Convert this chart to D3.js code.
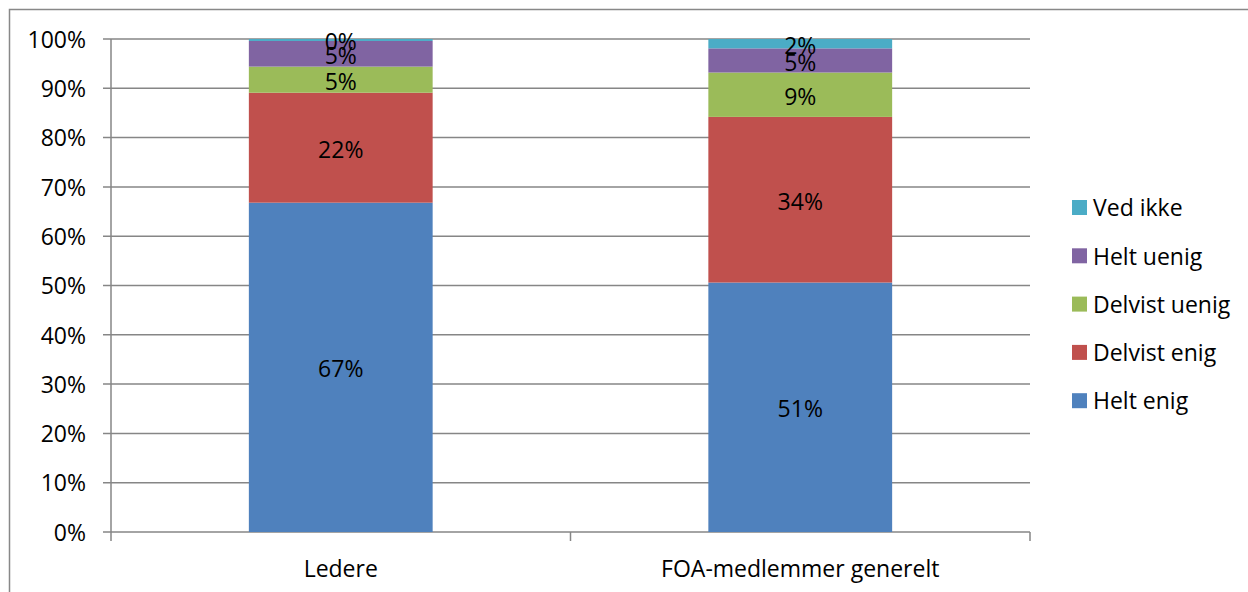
<!DOCTYPE html>
<html>
<head>
<meta charset="utf-8">
<script src="https://cdn.jsdelivr.net/npm/d3@7"></script>
<style>
  body { margin: 0; background: #fff; }
  text { font-family: "Open Sans", sans-serif; }
</style>
</head>
<body>
<svg width="1248" height="592"></svg>
<script>
const categories = ['Ledere', 'FOA-medlemmer generelt'];
const seriesNames = ['Helt enig', 'Delvist enig', 'Delvist uenig', 'Helt uenig', 'Ved ikke'];
const seriesColors = ['#4F81BD', '#C0504D', '#9BBB59', '#8064A2', '#4BACC6'];
const heltEnig = [66.8, 50.6];
const delvistEnig = [22.3, 33.6];
const delvistUenig = [5.3, 9.0];
const heltUenig = [5.2, 4.9];
const vedIkke = [0.4, 1.9];
const yTicks = [0, 10, 20, 30, 40, 50, 60, 70, 80, 90, 100];

(function (d3) {
  const values = [heltEnig, delvistEnig, delvistUenig, heltUenig, vedIkke];
  const rows = categories.map((c, i) => {
    const r = { cat: c };
    seriesNames.forEach((s, j) => r[s] = values[j][i]);
    return r;
  });

  const svg = d3.select('svg');
  const width = +svg.attr('width');
  const height = +svg.attr('height');
  const fontSize = 23;

  // outer chart border
  svg.append('rect')
    .attr('x', 9.5).attr('y', 9.5)
    .attr('width', width).attr('height', height)
    .attr('fill', 'none')
    .attr('stroke', '#888').attr('stroke-width', 1.5);

  const left = 111, right = 1030, plotTop = 39, bottom = 532;

  const x = d3.scaleBand().domain(categories).range([left, right]).paddingInner(0.6).paddingOuter(0.3);
  const xb = d3.scaleBand().domain(categories).range([left, right]);
  const y = d3.scaleLinear().domain([0, 100]).range([bottom, plotTop]);

  // gridlines
  svg.append('g')
    .selectAll('line')
    .data(yTicks)
    .join('line')
      .attr('x1', left - 8).attr('x2', right)
      .attr('y1', d => y(d)).attr('y2', d => y(d))
      .attr('stroke', '#868686').attr('stroke-width', 1.5);

  // y axis line
  svg.append('line')
    .attr('x1', left).attr('x2', left)
    .attr('y1', plotTop).attr('y2', bottom)
    .attr('stroke', '#868686').attr('stroke-width', 1.5);

  // y labels
  svg.append('g')
    .selectAll('text')
    .data(yTicks)
    .join('text')
      .attr('x', left - 25)
      .attr('y', d => y(d))
      .attr('dy', '0.38em')
      .attr('text-anchor', 'end')
      .attr('font-size', fontSize)
      .attr('fill', '#000')
      .text(d => d + '%');

  // x ticks
  const xTickPos = [left, ...categories.map(c => xb(c) + xb.bandwidth())];
  svg.append('g')
    .selectAll('line')
    .data(xTickPos)
    .join('line')
      .attr('x1', d => d).attr('x2', d => d)
      .attr('y1', bottom).attr('y2', bottom + 9)
      .attr('stroke', '#868686').attr('stroke-width', 1.5);

  svg.append('g')
    .selectAll('text')
    .data(categories)
    .join('text')
      .attr('x', d => x(d) + x.bandwidth() / 2)
      .attr('y', 569)
      .attr('dy', '0.35em')
      .attr('text-anchor', 'middle')
      .attr('font-size', fontSize)
      .attr('fill', '#000')
      .text(d => d);

  const stack = d3.stack().keys(seriesNames)(rows);
  const color = d3.scaleOrdinal().domain(seriesNames).range(seriesColors);

  const layers = svg.append('g')
    .selectAll('g')
    .data(stack)
    .join('g')
      .attr('fill', d => color(d.key));

  layers.selectAll('rect')
    .data(d => d)
    .join('rect')
      .attr('x', d => x(d.data.cat))
      .attr('width', x.bandwidth())
      .attr('y', d => y(d[1]))
      .attr('height', d => y(d[0]) - y(d[1]));

  // data labels
  layers.selectAll('text')
    .data(d => d.map(v => ({ v, key: d.key })))
    .join('text')
      .attr('x', d => x(d.v.data.cat) + x.bandwidth() / 2)
      .attr('y', d => (y(d.v[0]) + y(d.v[1])) / 2)
      .attr('dy', '0.44em')
      .attr('text-anchor', 'middle')
      .attr('font-size', fontSize)
      .attr('fill', '#000')
      .text(d => Math.round(d.v[1] - d.v[0]) + '%');

  // legend
  const legendItems = seriesNames.slice().reverse();
  const legend = svg.append('g')
    .selectAll('g')
    .data(legendItems)
    .join('g')
      .attr('transform', (d, i) => `translate(1072, ${207.5 + i * 48.3})`);

  legend.append('rect')
    .attr('x', 0).attr('y', -7.5)
    .attr('width', 15).attr('height', 15)
    .attr('fill', d => color(d));

  legend.append('text')
    .attr('x', 21)
    .attr('y', 0)
    .attr('dy', '0.38em')
    .attr('font-size', fontSize)
    .attr('fill', '#000')
    .text(d => d);
}(d3));
</script>
</body>
</html>
